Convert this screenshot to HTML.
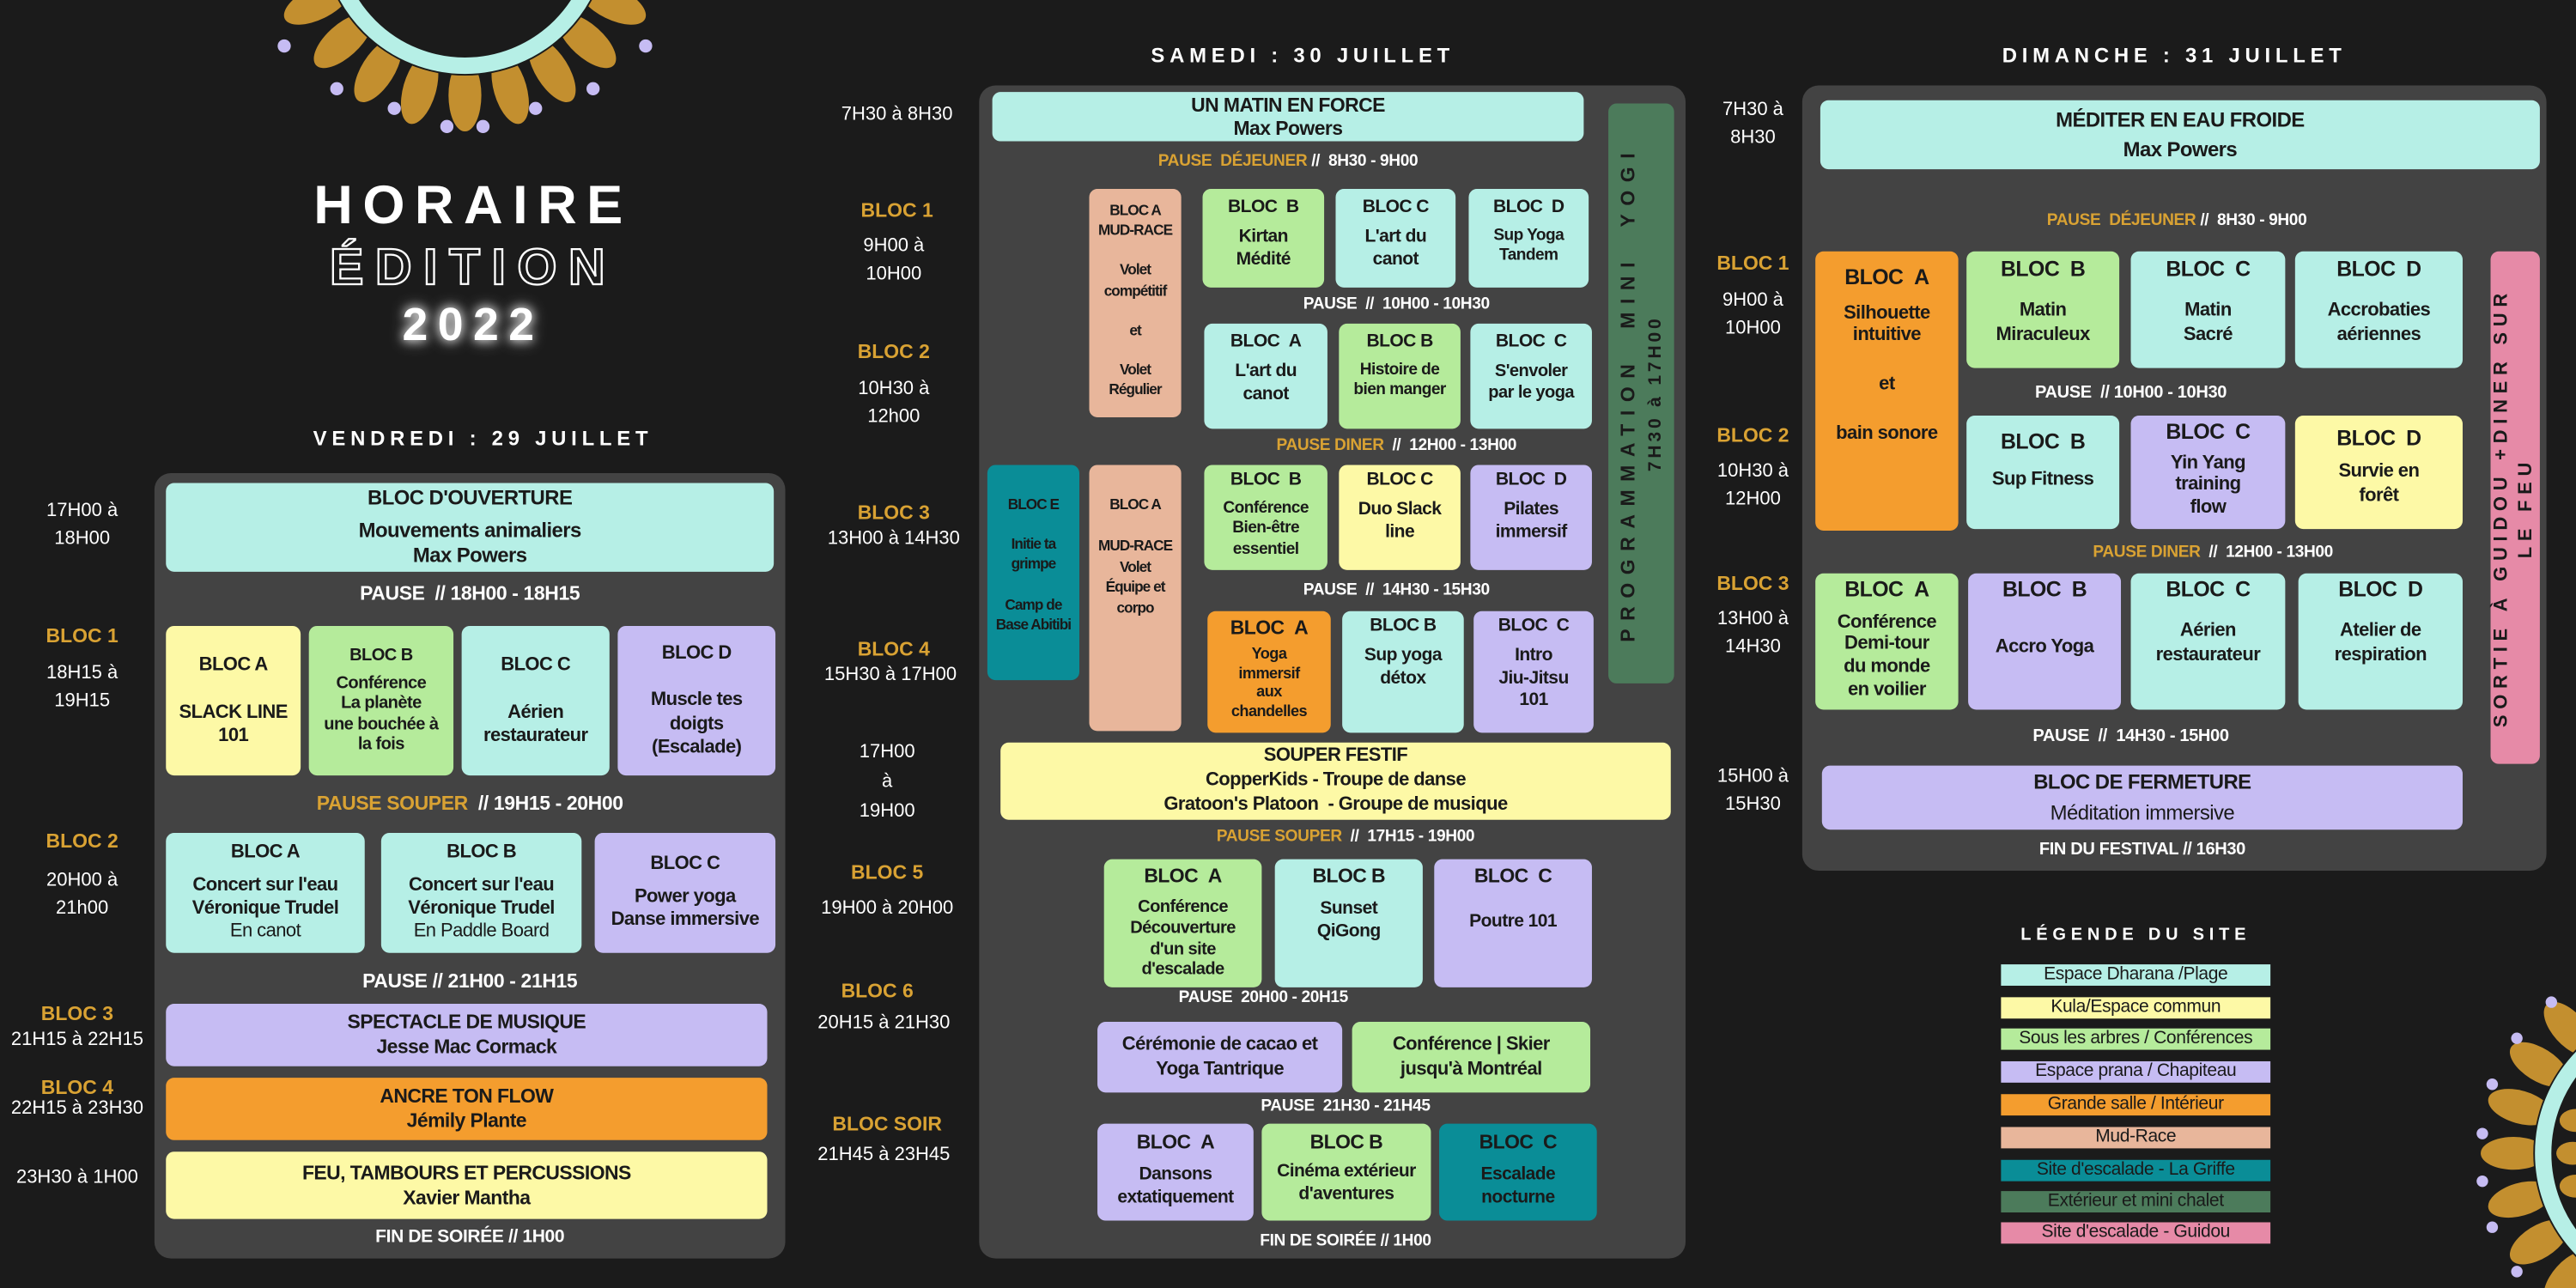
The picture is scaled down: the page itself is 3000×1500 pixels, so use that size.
<!DOCTYPE html>
<html><head><meta charset="utf-8">
<style>
html,body{margin:0;padding:0;background:#1b1b1b;}
body{width:3000px;height:1500px;overflow:hidden;position:relative;}
#s{position:absolute;left:0;top:0;width:1568px;height:784px;transform:scale(1.91327);transform-origin:0 0;font-family:"Liberation Sans Narrow","Liberation Sans",sans-serif;}
.a{position:absolute;}
.b{position:absolute;border-radius:5px;display:flex;flex-direction:column;justify-content:center;align-items:center;text-align:center;font-weight:bold;color:#1a1a1a;font-size:11px;line-height:1.25;box-sizing:border-box;padding:2px 1px;letter-spacing:-0.3px;}
.pn{position:absolute;background:#434343;border-radius:10px;}
.t{background:#b6efe6}.g{background:#b5eb9b}.y{background:#fdf9a6}.p{background:#c6bcf3}.o{background:#f49d2e}.pe{background:#e8b69b}.dt{background:#0a8d97}.pk{background:#e68aa7}.dg{background:#4c7b5b}
.tm{position:absolute;color:#fff;font-size:11.5px;text-align:center;line-height:1.45;font-family:"Liberation Sans",sans-serif;}
.gl{position:absolute;color:#d9a233;font-weight:bold;font-size:12px;text-align:center;font-family:"Liberation Sans",sans-serif;}
.ps{position:absolute;color:#fff;font-weight:bold;font-size:11px;text-align:center;white-space:nowrap;letter-spacing:-0.2px;}
.ps span{color:#d9a233}
.day{position:absolute;color:#fff;font-weight:bold;font-size:12.5px;letter-spacing:3px;text-align:center;font-family:"Liberation Sans",sans-serif;}
.lg{position:absolute;left:1218px;width:164px;height:13px;font-size:11px;line-height:13px;text-align:center;color:#1a1a1a;font-family:"Liberation Sans",sans-serif;letter-spacing:-0.2px;}
</style></head><body><div id="s">

<!-- top-left sun -->
<svg class="a" style="left:0;top:0" width="600" height="100" viewBox="0 0 600 100">
 <g transform="translate(283,-42)">
  <g fill="#c38f2f">
   <ellipse cx="0" cy="100" rx="10" ry="22"/>
   <ellipse cx="0" cy="100" rx="10" ry="22" transform="rotate(16)"/>
   <ellipse cx="0" cy="100" rx="10" ry="22" transform="rotate(-16)"/>
   <ellipse cx="0" cy="100" rx="10" ry="22" transform="rotate(32)"/>
   <ellipse cx="0" cy="100" rx="10" ry="22" transform="rotate(-32)"/>
   <ellipse cx="0" cy="100" rx="10" ry="22" transform="rotate(48)"/>
   <ellipse cx="0" cy="100" rx="10" ry="22" transform="rotate(-48)"/>
   <ellipse cx="0" cy="100" rx="10" ry="22" transform="rotate(64)"/>
   <ellipse cx="0" cy="100" rx="10" ry="22" transform="rotate(-64)"/>
   <ellipse cx="0" cy="100" rx="10" ry="22" transform="rotate(80)"/>
   <ellipse cx="0" cy="100" rx="10" ry="22" transform="rotate(-80)"/>
  </g>
  <circle r="88" fill="#1b1b1b"/>
  <circle r="82" fill="none" stroke="#b6efe6" stroke-width="10"/>
  <g fill="#c6bcf3">
   <circle cx="-11" cy="119" r="4"/><circle cx="11" cy="119" r="4"/>
   <circle cx="-43" cy="108" r="4"/><circle cx="43" cy="108" r="4"/>
   <circle cx="-78" cy="96" r="4"/><circle cx="78" cy="96" r="4"/>
   <circle cx="-110" cy="70" r="4"/><circle cx="110" cy="70" r="4"/>
  </g>
 </g>
</svg>
<!-- bottom-right sun -->
<svg class="a" style="left:1480px;top:580px" width="88" height="204" viewBox="0 0 88 204">
 <g transform="translate(152,122)">
  <g fill="#c38f2f">
   <ellipse cx="-102" cy="0" rx="20" ry="10"/>
   <ellipse cx="-102" cy="0" rx="20" ry="10" transform="rotate(16)"/>
   <ellipse cx="-102" cy="0" rx="20" ry="10" transform="rotate(-16)"/>
   <ellipse cx="-102" cy="0" rx="20" ry="10" transform="rotate(32)"/>
   <ellipse cx="-102" cy="0" rx="20" ry="10" transform="rotate(-32)"/>
   <ellipse cx="-102" cy="0" rx="20" ry="10" transform="rotate(48)"/>
   <ellipse cx="-102" cy="0" rx="20" ry="10" transform="rotate(-48)"/>
  </g>
  <circle r="90" fill="#1b1b1b"/>
  <circle r="84" fill="none" stroke="#b6efe6" stroke-width="10"/>
  <g fill="#c38f2f"><ellipse cx="-66" cy="0" rx="10" ry="7"/><ellipse cx="-64" cy="-20" rx="10" ry="7"/><ellipse cx="-64" cy="20" rx="10" ry="7"/></g>
  <g fill="#c6bcf3">
   <circle cx="-121" cy="-12" r="3.5"/><circle cx="-121" cy="17" r="3.5"/>
   <circle cx="-115" cy="-42" r="3.5"/><circle cx="-115" cy="45" r="3.5"/>
   <circle cx="-100" cy="-70" r="3.5"/><circle cx="-100" cy="72" r="3.5"/>
   <circle cx="-79" cy="-92" r="3.5"/>
  </g>
 </g>
</svg>

<!-- Title -->
<div class="a" style="left:130px;top:106px;width:316px;text-align:center;color:#fff;font:bold 33px 'Liberation Sans',sans-serif;letter-spacing:6px;">HORAIRE</div>
<div class="a" style="left:130px;top:145px;width:316px;text-align:center;color:#1b1b1b;-webkit-text-stroke:1.2px #fff;font:bold 31px 'Liberation Sans',sans-serif;letter-spacing:7px;">ÉDITION</div>
<div class="a" style="left:130px;top:182px;width:316px;text-align:center;color:#fff;font:bold 28px 'Liberation Sans',sans-serif;letter-spacing:6px;text-shadow:0 0 6px #fff,0 0 10px #aaa;">2022</div>

<!-- ============ FRIDAY ============ -->
<div class="day" style="left:94px;top:260px;width:400px;">VENDREDI : 29 JUILLET</div>
<div class="pn" style="left:94px;top:288px;width:384px;height:478px;"></div>
<div class="tm" style="left:0;top:303px;width:100px;">17H00 à<br>18H00</div>
<div class="b t" style="left:101px;top:294px;width:370px;height:54px;font-size:12.5px;line-height:1.2;"><div>BLOC D'OUVERTURE</div><div style="height:5px"></div><div>Mouvements animaliers<br>Max Powers</div></div>
<div class="ps" style="left:94px;top:354px;width:384px;font-size:12px;">PAUSE &nbsp;// 18H00 - 18H15</div>
<div class="gl" style="left:0;top:380px;width:100px;">BLOC 1</div>
<div class="tm" style="left:0;top:402px;width:100px;">18H15 à<br>19H15</div>
<div class="b y" style="left:101px;top:381px;width:82px;height:91px;font-size:11.5px;">BLOC A<br><br>SLACK LINE<br>101</div>
<div class="b g" style="left:188px;top:381px;width:88px;height:91px;font-size:10.5px;line-height:1.2;">BLOC B<br><div style="height:4px"></div>Conférence<br>La planète<br>une bouchée à<br>la fois</div>
<div class="b t" style="left:281px;top:381px;width:90px;height:91px;font-size:11.5px;">BLOC C<br><br>Aérien<br>restaurateur</div>
<div class="b p" style="left:376px;top:381px;width:96px;height:91px;font-size:11.5px;">BLOC D<br><br>Muscle tes<br>doigts<br>(Escalade)</div>
<div class="ps" style="left:94px;top:482px;width:384px;font-size:12px;"><span>PAUSE SOUPER</span> &nbsp;// 19H15 - 20H00</div>
<div class="gl" style="left:0;top:505px;width:100px;">BLOC 2</div>
<div class="tm" style="left:0;top:528px;width:100px;">20H00 à<br>21h00</div>
<div class="b t" style="left:101px;top:507px;width:121px;height:73px;font-size:11.5px;">BLOC A<br><div style="height:5px"></div>Concert sur l'eau<br>Véronique Trudel<br><span style="font-weight:normal">En canot</span></div>
<div class="b t" style="left:232px;top:507px;width:122px;height:73px;font-size:11.5px;">BLOC B<br><div style="height:5px"></div>Concert sur l'eau<br>Véronique Trudel<br><span style="font-weight:normal">En Paddle Board</span></div>
<div class="b p" style="left:362px;top:507px;width:110px;height:73px;font-size:11.5px;">BLOC C<br><div style="height:5px"></div>Power yoga<br>Danse immersive</div>
<div class="ps" style="left:94px;top:590px;width:384px;font-size:12px;">PAUSE // 21H00 - 21H15</div>
<div class="gl" style="left:0;top:610px;width:94px;">BLOC 3</div>
<div class="tm" style="left:0;top:625px;width:94px;">21H15 à 22H15</div>
<div class="b p" style="left:101px;top:611px;width:366px;height:38px;font-size:12px;">SPECTACLE DE MUSIQUE<br>Jesse Mac Cormack</div>
<div class="gl" style="left:0;top:655px;width:94px;">BLOC 4</div>
<div class="tm" style="left:0;top:667px;width:94px;">22H15 à 23H30</div>
<div class="b o" style="left:101px;top:656px;width:366px;height:38px;font-size:12px;">ANCRE TON FLOW<br>Jémily Plante</div>
<div class="tm" style="left:0;top:709px;width:94px;">23H30 à 1H00</div>
<div class="b y" style="left:101px;top:701px;width:366px;height:41px;font-size:12px;">FEU, TAMBOURS ET PERCUSSIONS<br>Xavier Mantha</div>
<div class="ps" style="left:94px;top:747px;width:384px;">FIN DE SOIRÉE // 1H00</div>

<!-- ============ SATURDAY ============ -->
<div class="day" style="left:596px;top:27px;width:394px;">SAMEDI : 30 JUILLET</div>
<div class="pn" style="left:596px;top:52px;width:430px;height:714px;"></div>
<div class="tm" style="left:496px;top:62px;width:100px;">7H30 à 8H30</div>
<div class="b t" style="left:604px;top:56px;width:360px;height:30px;font-size:12px;padding:0;line-height:1.2;">UN MATIN EN FORCE<br>Max Powers</div>
<div class="b dg" style="left:979px;top:63px;width:40px;height:353px;"><div style="transform:rotate(-90deg);white-space:nowrap;font-family:'Liberation Sans',sans-serif;font-size:12px;letter-spacing:5px;line-height:1.35;">PROGRAMMATION&nbsp; MINI&nbsp; YOGI<br><span style="letter-spacing:2px;font-size:11px">7H30 à 17H00</span></div></div>
<div class="ps" style="left:596px;top:93px;width:376px;font-size:10px;"><span>PAUSE &nbsp;DÉJEUNER</span> // &nbsp;8H30 - 9H00</div>
<div class="gl" style="left:496px;top:121px;width:100px;">BLOC 1</div>
<div class="tm" style="left:494px;top:142px;width:100px;">9H00 à<br>10H00</div>
<div class="b pe" style="left:663px;top:115px;width:56px;height:139px;font-size:9px;line-height:1.35;justify-content:flex-start;padding-top:7px;letter-spacing:-0.5px;">BLOC A<br>MUD-RACE<br><br>Volet<br>compétitif<br><br>et<br><br>Volet<br>Régulier</div>
<div class="b g" style="left:732px;top:115px;width:74px;height:60px;justify-content:flex-start;padding-top:5px;">BLOC &nbsp;B<br><div style="height:4px"></div>Kirtan<br>Médité</div>
<div class="b t" style="left:813px;top:115px;width:73px;height:60px;justify-content:flex-start;padding-top:5px;">BLOC C<br><div style="height:4px"></div>L'art du<br>canot</div>
<div class="b t" style="left:894px;top:115px;width:73px;height:60px;justify-content:flex-start;padding-top:5px;">BLOC &nbsp;D<br><div style="height:4px"></div><span style="font-size:10px">Sup Yoga<br>Tandem</span></div>
<div class="ps" style="left:722px;top:180px;width:256px;font-size:10px;">PAUSE &nbsp;// &nbsp;10H00 - 10H30</div>
<div class="gl" style="left:494px;top:207px;width:100px;">BLOC 2</div>
<div class="tm" style="left:494px;top:229px;width:100px;">10H30 à<br>12h00</div>
<div class="b t" style="left:733px;top:197px;width:75px;height:64px;justify-content:flex-start;padding-top:5px;">BLOC &nbsp;A<br><div style="height:4px"></div>L'art du<br>canot</div>
<div class="b g" style="left:815px;top:197px;width:74px;height:64px;justify-content:flex-start;padding-top:5px;">BLOC B<br><div style="height:4px"></div><span style="font-size:10px">Histoire de<br>bien manger</span></div>
<div class="b t" style="left:895px;top:197px;width:74px;height:64px;justify-content:flex-start;padding-top:5px;">BLOC &nbsp;C<br><div style="height:4px"></div><span style="font-size:10.5px">S'envoler<br>par le yoga</span></div>
<div class="ps" style="left:722px;top:266px;width:256px;font-size:10px;"><span>PAUSE DINER</span> &nbsp;// &nbsp;12H00 - 13H00</div>
<div class="gl" style="left:494px;top:305px;width:100px;">BLOC 3</div>
<div class="tm" style="left:494px;top:320px;width:100px;">13H00 à 14H30</div>
<div class="b dt" style="left:601px;top:283px;width:56px;height:131px;font-size:9px;line-height:1.35;justify-content:flex-start;padding-top:18px;letter-spacing:-0.5px;">BLOC E<br><br>Initie ta<br>grimpe<br><br>Camp de<br>Base Abitibi</div>
<div class="b pe" style="left:663px;top:283px;width:56px;height:162px;font-size:9px;line-height:1.4;justify-content:flex-start;padding-top:18px;letter-spacing:-0.5px;">BLOC A<br><br>MUD-RACE<br>Volet<br>Équipe et<br>corpo</div>
<div class="b g" style="left:733px;top:283px;width:75px;height:64px;justify-content:flex-start;padding-top:3px;">BLOC &nbsp;B<br><div style="height:4px"></div><span style="font-size:10px">Conférence<br>Bien-être<br>essentiel</span></div>
<div class="b y" style="left:815px;top:283px;width:74px;height:64px;justify-content:flex-start;padding-top:3px;">BLOC C<br><div style="height:4px"></div>Duo Slack<br>line</div>
<div class="b p" style="left:895px;top:283px;width:74px;height:64px;justify-content:flex-start;padding-top:3px;">BLOC &nbsp;D<br><div style="height:4px"></div>Pilates<br>immersif</div>
<div class="ps" style="left:722px;top:354px;width:256px;font-size:10px;">PAUSE &nbsp;// &nbsp;14H30 - 15H30</div>
<div class="gl" style="left:494px;top:388px;width:100px;">BLOC 4</div>
<div class="tm" style="left:492px;top:403px;width:100px;">15H30 à 17H00</div>
<div class="b o" style="left:735px;top:372px;width:75px;height:74px;justify-content:flex-start;padding-top:3px;font-size:9.5px;line-height:1.2;"><span style="font-size:12px">BLOC &nbsp;A</span><div style="height:4px"></div>Yoga<br>immersif<br>aux<br>chandelles</div>
<div class="b t" style="left:817px;top:372px;width:74px;height:74px;justify-content:flex-start;padding-top:3px;">BLOC B<br><div style="height:4px"></div>Sup yoga<br>détox</div>
<div class="b p" style="left:897px;top:372px;width:73px;height:74px;justify-content:flex-start;padding-top:3px;">BLOC &nbsp;C<br><div style="height:4px"></div>Intro<br>Jiu-Jitsu<br>101</div>
<div class="tm" style="left:490px;top:450px;width:100px;line-height:1.55;">17H00<br>à<br>19H00</div>
<div class="b y" style="left:609px;top:452px;width:408px;height:47px;font-size:11.5px;line-height:1.3;">SOUPER FESTIF<br>CopperKids - Troupe de danse<br>Gratoon's Platoon &nbsp;- Groupe de musique</div>
<div class="ps" style="left:666px;top:504px;width:306px;font-size:10px;"><span>PAUSE SOUPER</span> &nbsp;// &nbsp;17H15 - 19H00</div>
<div class="gl" style="left:490px;top:524px;width:100px;">BLOC 5</div>
<div class="tm" style="left:490px;top:545px;width:100px;">19H00 à 20H00</div>
<div class="b g" style="left:672px;top:523px;width:96px;height:78px;justify-content:flex-start;padding-top:3px;font-size:10.5px;line-height:1.2;"><span style="font-size:12px">BLOC &nbsp;A</span><div style="height:6px"></div>Conférence<br>Découverture<br>d'un site<br>d'escalade</div>
<div class="b t" style="left:776px;top:523px;width:90px;height:78px;justify-content:flex-start;padding-top:3px;"><span style="font-size:12px">BLOC B</span><div style="height:6px"></div>Sunset<br>QiGong</div>
<div class="b p" style="left:873px;top:523px;width:96px;height:78px;justify-content:flex-start;padding-top:3px;"><span style="font-size:12px">BLOC &nbsp;C</span><div style="height:14px"></div>Poutre 101</div>
<div class="ps" style="left:666px;top:602px;width:206px;font-size:10px;">PAUSE &nbsp;20H00 - 20H15</div>
<div class="gl" style="left:484px;top:596px;width:100px;">BLOC 6</div>
<div class="tm" style="left:488px;top:615px;width:100px;">20H15 à 21H30</div>
<div class="b p" style="left:668px;top:622px;width:149px;height:43px;font-size:11.5px;">Cérémonie de cacao et<br>Yoga Tantrique</div>
<div class="b g" style="left:823px;top:622px;width:145px;height:43px;font-size:11.5px;">Conférence | Skier<br>jusqu'à Montréal</div>
<div class="ps" style="left:666px;top:668px;width:306px;font-size:10px;">PAUSE &nbsp;21H30 - 21H45</div>
<div class="gl" style="left:490px;top:677px;width:100px;">BLOC SOIR</div>
<div class="tm" style="left:488px;top:695px;width:100px;">21H45 à 23H45</div>
<div class="b p" style="left:668px;top:684px;width:95px;height:59px;justify-content:flex-start;padding-top:4px;"><span style="font-size:12px">BLOC &nbsp;A</span><div style="height:6px"></div>Dansons<br>extatiquement</div>
<div class="b g" style="left:768px;top:684px;width:103px;height:59px;justify-content:flex-start;padding-top:4px;"><span style="font-size:12px">BLOC B</span><div style="height:4px"></div>Cinéma extérieur<br>d'aventures</div>
<div class="b dt" style="left:876px;top:684px;width:96px;height:59px;justify-content:flex-start;padding-top:4px;"><span style="font-size:12px">BLOC &nbsp;C</span><div style="height:6px"></div>Escalade<br>nocturne</div>
<div class="ps" style="left:596px;top:750px;width:446px;font-size:10px;">FIN DE SOIRÉE // 1H00</div>

<!-- ============ SUNDAY ============ -->
<div class="day" style="left:1097px;top:27px;width:453px;">DIMANCHE : 31 JUILLET</div>
<div class="pn" style="left:1097px;top:52px;width:453px;height:478px;"></div>
<div class="tm" style="left:1017px;top:59px;width:100px;">7H30 à<br>8H30</div>
<div class="b t" style="left:1108px;top:61px;width:438px;height:42px;font-size:12.5px;line-height:1.45;">MÉDITER EN EAU FROIDE<br>Max Powers</div>
<div class="ps" style="left:1097px;top:129px;width:456px;font-size:10px;"><span>PAUSE &nbsp;DÉJEUNER</span> // &nbsp;8H30 - 9H00</div>
<div class="gl" style="left:1017px;top:153px;width:100px;">BLOC 1</div>
<div class="tm" style="left:1017px;top:175px;width:100px;">9H00 à<br>10H00</div>
<div class="b o" style="left:1105px;top:153px;width:87px;height:170px;justify-content:flex-start;padding-top:8px;font-size:11.5px;line-height:1.2;"><span style="font-size:13px">BLOC &nbsp;A</span><div style="height:8px"></div>Silhouette<br>intuitive<br><div style="height:16px"></div>et<div style="height:16px"></div>bain sonore</div>
<div class="b g" style="left:1197px;top:153px;width:93px;height:71px;justify-content:flex-start;padding-top:3px;font-size:11.5px;"><span style="font-size:13px">BLOC &nbsp;B</span><div style="height:10px"></div>Matin<br>Miraculeux</div>
<div class="b t" style="left:1297px;top:153px;width:94px;height:71px;justify-content:flex-start;padding-top:3px;font-size:11.5px;"><span style="font-size:13px">BLOC &nbsp;C</span><div style="height:10px"></div>Matin<br>Sacré</div>
<div class="b t" style="left:1397px;top:153px;width:102px;height:71px;justify-content:flex-start;padding-top:3px;font-size:11.5px;"><span style="font-size:13px">BLOC &nbsp;D</span><div style="height:10px"></div>Accrobaties<br>aériennes</div>
<div class="b pk" style="left:1516px;top:153px;width:30px;height:312px;"><div style="transform:rotate(-90deg);white-space:nowrap;font-family:'Liberation Sans',sans-serif;font-size:11.5px;letter-spacing:3.5px;line-height:1.3;">SORTIE À GUIDOU +DINER SUR<br>LE FEU</div></div>
<div class="ps" style="left:1192px;top:233px;width:210px;font-size:10.5px;">PAUSE &nbsp;// 10H00 - 10H30</div>
<div class="gl" style="left:1017px;top:258px;width:100px;">BLOC 2</div>
<div class="tm" style="left:1017px;top:279px;width:100px;">10H30 à<br>12H00</div>
<div class="b t" style="left:1197px;top:253px;width:93px;height:69px;justify-content:flex-start;padding-top:8px;font-size:11.5px;"><span style="font-size:13px">BLOC &nbsp;B</span><div style="height:8px"></div>Sup Fitness</div>
<div class="b p" style="left:1297px;top:253px;width:94px;height:69px;justify-content:flex-start;padding-top:2px;font-size:11.5px;line-height:1.2;"><span style="font-size:13px">BLOC &nbsp;C</span><div style="height:5px"></div>Yin Yang<br>training<br>flow</div>
<div class="b y" style="left:1397px;top:253px;width:102px;height:69px;justify-content:flex-start;padding-top:6px;font-size:11.5px;"><span style="font-size:13px">BLOC &nbsp;D</span><div style="height:5px"></div>Survie en<br>forêt</div>
<div class="ps" style="left:1192px;top:331px;width:310px;font-size:10px;"><span>PAUSE DINER</span> &nbsp;// &nbsp;12H00 - 13H00</div>
<div class="gl" style="left:1017px;top:348px;width:100px;">BLOC 3</div>
<div class="tm" style="left:1017px;top:369px;width:100px;">13H00 à<br>14H30</div>
<div class="b g" style="left:1105px;top:349px;width:87px;height:83px;justify-content:flex-start;padding-top:2px;font-size:11.5px;line-height:1.2;"><span style="font-size:13px">BLOC &nbsp;A</span><div style="height:6px"></div>Conférence<br>Demi-tour<br>du monde<br>en voilier</div>
<div class="b p" style="left:1198px;top:349px;width:93px;height:83px;justify-content:flex-start;padding-top:2px;font-size:11.5px;"><span style="font-size:13px">BLOC &nbsp;B</span><div style="height:20px"></div>Accro Yoga</div>
<div class="b t" style="left:1297px;top:349px;width:94px;height:83px;justify-content:flex-start;padding-top:2px;font-size:11.5px;"><span style="font-size:13px">BLOC &nbsp;C</span><div style="height:10px"></div>Aérien<br>restaurateur</div>
<div class="b t" style="left:1399px;top:349px;width:100px;height:83px;justify-content:flex-start;padding-top:2px;font-size:11.5px;"><span style="font-size:13px">BLOC &nbsp;D</span><div style="height:10px"></div>Atelier de<br>respiration</div>
<div class="ps" style="left:1192px;top:442px;width:210px;font-size:10.5px;">PAUSE &nbsp;// &nbsp;14H30 - 15H00</div>
<div class="tm" style="left:1017px;top:465px;width:100px;">15H00 à<br>15H30</div>
<div class="b p" style="left:1109px;top:466px;width:390px;height:39px;font-size:12.5px;line-height:1.5;">BLOC DE FERMETURE<br><span style="font-weight:normal">Méditation immersive</span></div>
<div class="ps" style="left:1109px;top:511px;width:390px;font-size:10.5px;">FIN DU FESTIVAL // 16H30</div>

<!-- Legend -->
<div class="day" style="left:1200px;top:563px;width:200px;font-size:10.5px;">LÉGENDE DU SITE</div>
<div class="lg t" style="top:587px;">Espace Dharana /Plage</div>
<div class="lg y" style="top:607px;">Kula/Espace commun</div>
<div class="lg g" style="top:626px;">Sous les arbres / Conférences</div>
<div class="lg p" style="top:646px;">Espace prana / Chapiteau</div>
<div class="lg o" style="top:666px;">Grande salle / Intérieur</div>
<div class="lg pe" style="top:686px;">Mud-Race</div>
<div class="lg dt" style="top:706px;">Site d'escalade - La Griffe</div>
<div class="lg dg" style="top:725px;">Extérieur et mini chalet</div>
<div class="lg pk" style="top:744px;">Site d'escalade - Guidou</div>

</div></body></html>
